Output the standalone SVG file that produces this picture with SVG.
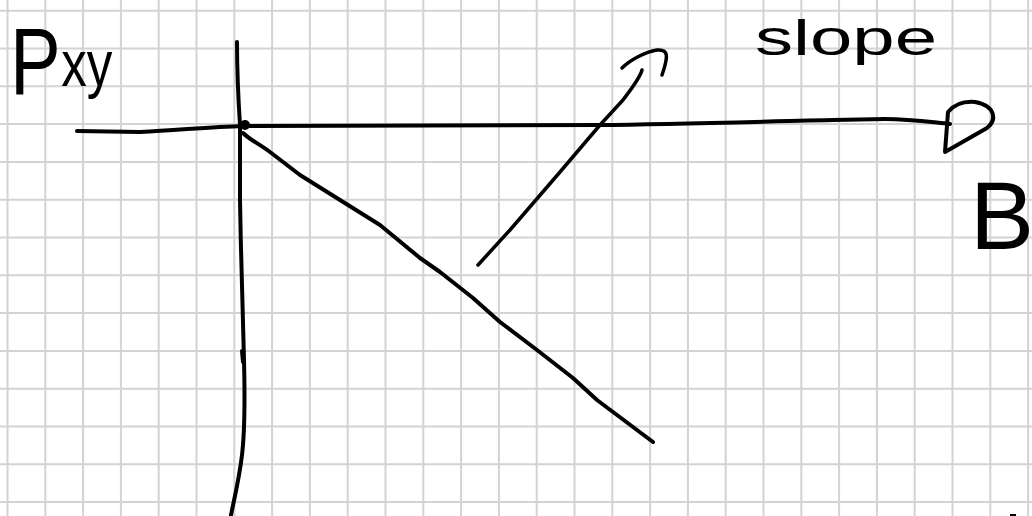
<svg xmlns="http://www.w3.org/2000/svg" width="1032" height="516" viewBox="0 0 1032 516">
<style>
.grid{stroke:#d3d3d3;stroke-width:2;fill:none}
.ink{stroke:#000;stroke-width:4;fill:none;stroke-linecap:round;stroke-linejoin:round}
.thin{stroke-width:3.5}
.lbl{font-family:"Liberation Sans",Arial,sans-serif;fill:#000}
</style>
<rect width="1032" height="516" fill="#fff"/>
<path class="grid" d="M7.5,0V516M45.3,0V516M83.1,0V516M120.9,0V516M158.7,0V516M196.5,0V516M234.3,0V516M272.1,0V516M309.9,0V516M347.7,0V516M385.5,0V516M423.3,0V516M461.1,0V516M498.9,0V516M536.7,0V516M574.5,0V516M612.3,0V516M650.1,0V516M687.9,0V516M725.7,0V516M763.5,0V516M801.3,0V516M839.1,0V516M876.9,0V516M914.7,0V516M952.5,0V516M990.3,0V516M1028.1,0V516M0,10.7H1032M0,48.5H1032M0,86.3H1032M0,124.1H1032M0,161.9H1032M0,199.7H1032M0,237.5H1032M0,275.3H1032M0,313.1H1032M0,350.9H1032M0,388.7H1032M0,426.5H1032M0,464.3H1032M0,502.1H1032"/>
<g id="connectors">
<path class="ink" d="M77,131 L140,132 C180,130 210,127 243,126"/>
<path class="ink" d="M243,126 L600,125 C700,124 850,119 885,119 C910,119 930,122 950,124"/>
<path class="ink" d="M948,112 L945,152 L987,128 C997,120 996,106 975,102 C962,101 953,106 948,112"/>
<path class="ink" d="M237,42 C237,80 239,110 240,125 L240,200 C241,260 243,330 244,360 C245,400 245,430 242,455 C239,480 234,500 231,515"/>
<path class="ink" d="M242,351 L243,362"/>
<path class="ink" d="M243,133 C250,140 258,143 270,152 L300,175 L340,200 L380,225 L420,258 L440,272 L473,298 L500,322 L537,350 L573,378 L597,400 L653,442"/>
<path class="ink thin" d="M478,265 L510,230 L560,172 L600,125 L623,100 C632,88 640,78 642,70"/>
<path class="ink thin" d="M622,68 C630,60 645,52 657,50 C668,49 669,55 662,75"/>
<rect x="1010" y="514" width="6" height="2" fill="#000"/>
</g>
<g id="origin"><circle cx="245" cy="125" r="5" fill="#000"/></g>
<g id="label-pxy"><text class="lbl" transform="translate(10,94) scale(0.8,1)"><tspan x="0" y="0" font-size="95">P</tspan><tspan x="64" y="-8" font-size="64">xy</tspan></text></g>
<g id="label-slope"><text class="lbl" x="755" y="55" font-size="50" textLength="182" lengthAdjust="spacingAndGlyphs">slope</text></g>
<g id="label-b"><text class="lbl" x="970" y="249" font-size="96">B</text></g>
</svg>
